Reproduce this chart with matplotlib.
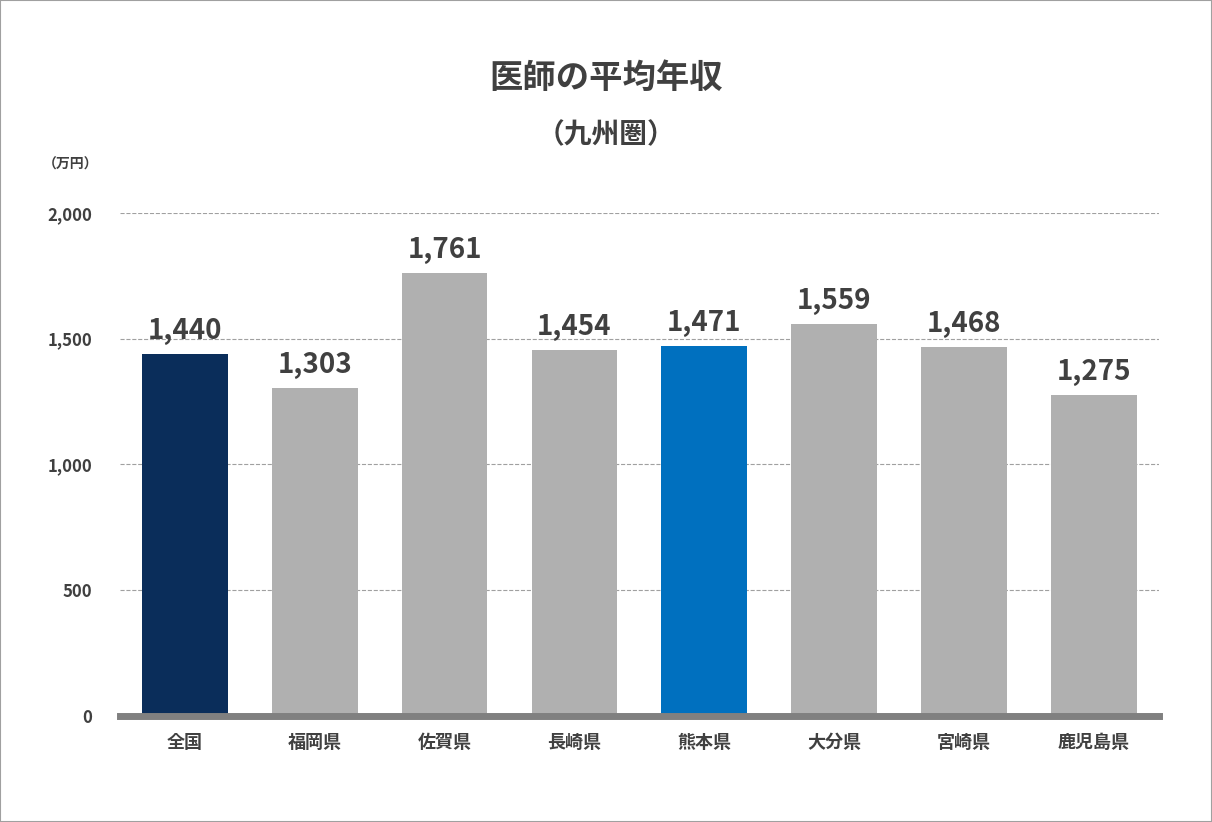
import matplotlib.pyplot as plt
from matplotlib.patches import Rectangle

plt.rcParams["font.family"] = "Noto Sans CJK JP"

regions = ["全国", "福岡県", "佐賀県", "長崎県", "熊本県", "大分県", "宮崎県", "鹿児島県"]
salaries = [1440, 1303, 1761, 1454, 1471, 1559, 1468, 1275]
colors = ["#0a2d5a", "#b0b0b0", "#b0b0b0", "#b0b0b0", "#0070bf", "#b0b0b0", "#b0b0b0", "#b0b0b0"]
yticks = [0, 500, 1000, 1500, 2000]

fig = plt.figure(figsize=(12.12, 8.22), dpi=100)
ax = fig.add_axes([0.099, 0.129, 0.857, 0.612])

x = range(len(regions))
ax.bar(x, salaries, width=0.66, color=colors, zorder=3)
for xi, v in zip(x, salaries):
    ax.text(xi, v + 35, f"{v:,}", ha="center", va="bottom", fontsize=20,
            fontweight="bold", color="#404040")

ax.set_xlim(-0.5, len(regions) - 0.5)
ax.set_ylim(0, 2000)
ax.set_yticks(yticks)
ax.set_yticklabels([f"{t:,}" for t in yticks], fontsize=12, fontweight="bold", color="#404040")
ax.set_xticks(list(x))
ax.set_xticklabels(regions, fontsize=13, fontweight="bold", color="#404040")
ax.tick_params(length=0, pad=12)
ax.tick_params(axis="y", pad=20)
ax.grid(axis="y", linestyle="--", color="#a0a0a0", linewidth=0.8, zorder=0)
for s in ["top", "right", "left"]:
    ax.spines[s].set_visible(False)
ax.spines["bottom"].set_color("#808080")
ax.spines["bottom"].set_linewidth(5)
ax.spines["bottom"].set_zorder(4)

fig.text(0.5, 0.905, "医師の平均年収", ha="center", va="center", fontsize=24,
         fontweight="bold", color="#404040")
fig.text(0.5, 0.836, "（九州圏）", ha="center", va="center", fontsize=20,
         fontweight="bold", color="#404040")
fig.text(0.058, 0.8, "（万円）", ha="center", va="center", fontsize=10,
         fontweight="bold", color="#404040")

fig.patches.append(Rectangle((0, 0), 1, 1, transform=fig.transFigure, fill=False,
                             edgecolor="#a0a0a0", linewidth=1.5))

fig.savefig("out.png", dpi=100)
